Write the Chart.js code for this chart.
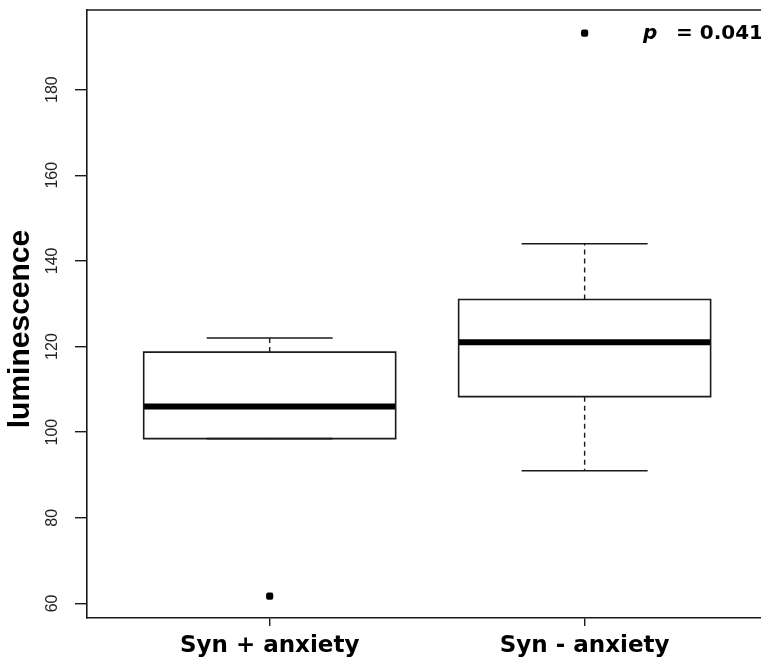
<!DOCTYPE html>
<html>
<head>
<meta charset="utf-8">
<script src="https://cdn.jsdelivr.net/npm/chart.js@4.4.1/dist/chart.umd.min.js"></script>
<style>
  html, body { margin: 0; padding: 0; background: #fff; overflow: hidden; }
  canvas { display: block; }
</style>
</head>
<body>
<canvas id="c" width="761" height="663"></canvas>
<script>
// ---- data ----
const categories    = ['Syn + anxiety', 'Syn - anxiety'];
const positions     = [1, 2];
const lowerWhisker  = [98.5, 91];
const q1            = [98.5, 108.3];
const median        = [106, 121];
const q3            = [118.7, 131];
const upperWhisker  = [122, 144];
const outliers      = [[61.7], [193.2]];
const yTicks        = [60, 80, 100, 120, 140, 160, 180];
const yTitle        = 'luminescence';
const pLabel        = 'p';
const pValueText    = '= 0.041';

// ---- styling constants ----
const HALF_BOX = 0.4;   // boxwex 0.8
const HALF_CAP = 0.2;   // staple width
const INK = '#1a1a1a';

const datasets = [];
positions.forEach((x, i) => {
  // box outline
  datasets.push({
    data: [
      {x: x - HALF_BOX, y: q1[i]}, {x: x + HALF_BOX, y: q1[i]},
      {x: x + HALF_BOX, y: q3[i]}, {x: x - HALF_BOX, y: q3[i]},
      {x: x - HALF_BOX, y: q1[i]}
    ],
    showLine: true, borderColor: INK, borderWidth: 1.6, pointRadius: 0,
    borderJoinStyle: 'miter', borderCapStyle: 'square', tension: 0
  });
  // median
  datasets.push({
    data: [{x: x - HALF_BOX, y: median[i]}, {x: x + HALF_BOX, y: median[i]}],
    showLine: true, borderColor: '#000', borderWidth: 6, pointRadius: 0,
    borderCapStyle: 'butt'
  });
  // whiskers (dashed)
  datasets.push({
    data: [{x: x, y: q3[i]}, {x: x, y: upperWhisker[i]}],
    showLine: true, borderColor: INK, borderWidth: 1.4, pointRadius: 0,
    borderDash: [5, 4], borderCapStyle: 'butt'
  });
  datasets.push({
    data: [{x: x, y: q1[i]}, {x: x, y: lowerWhisker[i]}],
    showLine: true, borderColor: INK, borderWidth: 1.4, pointRadius: 0,
    borderDash: [5, 4], borderCapStyle: 'butt'
  });
  // caps
  datasets.push({
    data: [{x: x - HALF_CAP, y: upperWhisker[i]}, {x: x + HALF_CAP, y: upperWhisker[i]}],
    showLine: true, borderColor: INK, borderWidth: 1.6, pointRadius: 0
  });
  datasets.push({
    data: [{x: x - HALF_CAP, y: lowerWhisker[i]}, {x: x + HALF_CAP, y: lowerWhisker[i]}],
    showLine: true, borderColor: INK, borderWidth: 1.6, pointRadius: 0
  });
  // outliers
  datasets.push({
    data: outliers[i].map(v => ({x: x, y: v})),
    showLine: false, pointRadius: 4.2, pointStyle: 'rectRounded',
    backgroundColor: '#000', borderColor: '#000', borderWidth: 0
  });
});

const frameAndText = {
  id: 'frameAndText',
  afterDraw(chart) {
    const {ctx, chartArea: a} = chart;
    ctx.save();
    ctx.strokeStyle = INK;
    ctx.lineWidth = 1.6;
    ctx.beginPath();
    ctx.moveTo(a.left, a.top);
    ctx.lineTo(a.right + 2, a.top);
    ctx.stroke();
    // p value annotation
    ctx.fillStyle = '#000';
    ctx.textBaseline = 'alphabetic';
    ctx.textAlign = 'left';
    ctx.font = 'italic bold 20px "DejaVu Sans"';
    ctx.fillText(pLabel, a.left + 556, a.top + 29);
    ctx.font = 'bold 20px "DejaVu Sans"';
    ctx.fillText(pValueText, a.left + 589, a.top + 29);
    ctx.restore();
  }
};

new Chart(document.getElementById('c'), {
  type: 'scatter',
  data: { datasets },
  options: {
    responsive: false,
    animation: false,
    events: [],
    layout: { autoPadding: false, padding: { top: 10, right: 0, left: 0, bottom: 0 } },
    plugins: { legend: { display: false }, tooltip: { enabled: false } },
    scales: {
      x: {
        type: 'linear',
        min: 0.42,
        max: 2.56,
        afterBuildTicks: s => { s.ticks = positions.map(v => ({value: v})); },
        afterFit: s => { s.height = 45; s.paddingLeft = 0; s.paddingRight = 0; },
        ticks: {
          callback: v => categories[positions.indexOf(v)] ?? '',
          font: { family: '"DejaVu Sans"', size: 23, weight: 'bold' },
          color: '#000',
          padding: 6,
          maxRotation: 0, minRotation: 0, autoSkip: false
        },
        grid: { drawOnChartArea: false, drawTicks: true, tickLength: 8, color: INK, lineWidth: 1.4 },
        border: { display: true, color: INK, width: 1.6 }
      },
      y: {
        type: 'linear',
        min: 56.6,
        max: 198.6,
        afterBuildTicks: s => { s.ticks = yTicks.map(v => ({value: v})); },
        afterFit: s => { s.width = 87; s.paddingTop = 0; s.paddingBottom = 0; },
        ticks: {
          minRotation: 90, maxRotation: 90,
          crossAlign: 'center',
          padding: 9,
          font: { family: '"Liberation Sans"', size: 16 },
          color: '#222'
        },
        grid: { drawOnChartArea: false, drawTicks: true, tickLength: 12, color: INK, lineWidth: 1.4 },
        border: { display: true, color: INK, width: 1.6 },
        title: {
          display: true,
          text: yTitle + '\u2002\u2002',
          font: { family: '"Liberation Sans"', size: 30, weight: 'bold' },
          color: '#000',
          padding: { top: 3, bottom: 0 }
        }
      }
    }
  },
  plugins: [frameAndText]
});
</script>
</body>
</html>
